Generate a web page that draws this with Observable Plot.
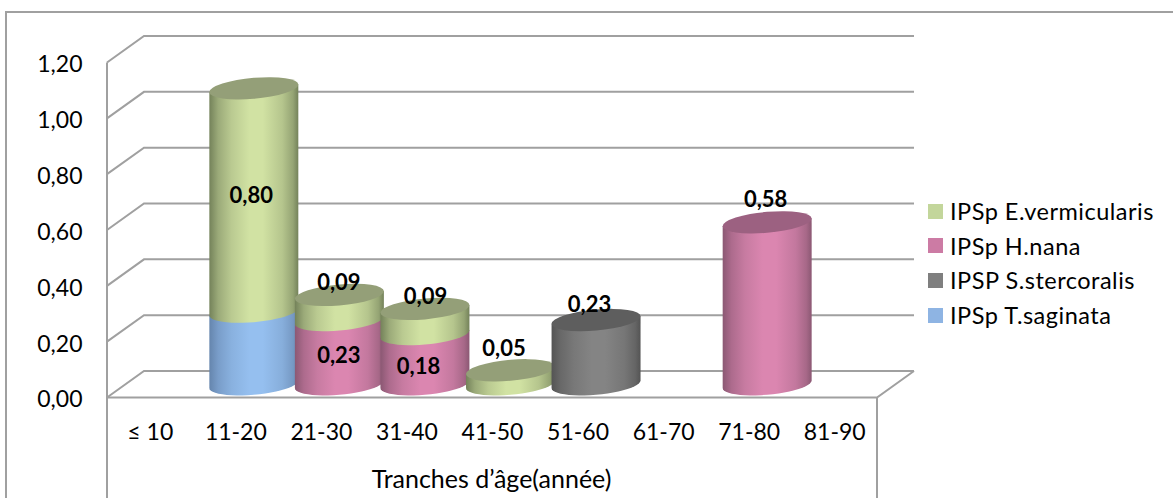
<!DOCTYPE html>
<html lang="fr">
<head>
<meta charset="utf-8">
<title>IPSp par tranche d'âge</title>
<script src="https://cdn.jsdelivr.net/npm/d3@7"></script>
<script src="https://cdn.jsdelivr.net/npm/@observablehq/plot@0.6"></script>
<style>
  html, body { margin: 0; padding: 0; background: #fff; }
  #chart { position: relative; width: 1173px; height: 498px; overflow: hidden; font-family: Lato, sans-serif; }
  #chart svg { display: block; }
  .legend { position: absolute; left: 928px; top: 194px; font-size: 23.5px; color: #000; letter-spacing: 0.5px; }
  .legend div { display: flex; align-items: center; height: 34.6px; white-space: nowrap; }
  .legend i { width: 15px; height: 15px; margin-right: 7px; }
</style>
</head>
<body>
<div id="chart"></div>
<script>
// Age bands on the horizontal axis
const ages = ["≤ 10", "11-20", "21-30", "31-40", "41-50", "51-60", "61-70", "71-80", "81-90"];

// Parasite index per age band, one list per species
const tSaginata     = [0, 0.26, 0, 0, 0, 0, 0, 0, 0];
const sStercoralis  = [0, 0, 0, 0, 0, 0.23, 0, 0, 0];
const hNana         = [0, 0, 0.23, 0.18, 0, 0, 0, 0.58, 0];
const eVermicularis = [0, 0.80, 0.09, 0.09, 0.05, 0, 0, 0, 0];

const yTicks = [0, 0.2, 0.4, 0.6, 0.8, 1.0, 1.2];

// Stacking order runs bottom to top
const series = [
  {name: "IPSp T.saginata",     values: tSaginata,     swatch: "#8eb4e3", light: "#95bfef", dark: "#6585ad", cap: "#7b98bd"},
  {name: "IPSP S.stercoralis",  values: sStercoralis,  swatch: "#7f7f7f", light: "#848484", dark: "#545454", cap: "#5e5e5e"},
  {name: "IPSp H.nana",         values: hNana,         swatch: "#cc7ba4", light: "#db86b0", dark: "#8b5873", cap: "#9c6181"},
  {name: "IPSp E.vermicularis", values: eVermicularis, swatch: "#c3d69b", light: "#d1e2a3", dark: "#74825a", cap: "#949f78"}
];

// Receding floor and wall offset of the 3D box, in pixels
const depthX = 37, depthY = -26.5;
const capRadiusY = 10.5, capSkew = 3.8;

// Stacked rows, one per non-zero segment, left to right and bottom to top
const rows = [];
ages.forEach((age, a) => {
  let base = 0;
  series.forEach((s, k) => {
    const value = s.values[a];
    if (value > 0) {
      rows.push({age, series: k, value, y1: base, y2: base + value});
      base += value;
    }
  });
});

// Nudges of the value labels from the centre of each cylinder's top, in pixels
const labelNudge = {
  "11-20|3": [-3, 107], "21-30|3": [-1, -12], "31-40|3": [0, -12], "41-50|3": [-7, -22],
  "51-60|1": [-7, -16], "71-80|2": [-2, -23], "21-30|2": [-1, 61], "31-40|2": [-7, 58]
};

const svgNS = "http://www.w3.org/2000/svg";
function el(name, attrs) {
  const node = document.createElementNS(svgNS, name);
  for (const k in attrs) node.setAttribute(k, attrs[k]);
  return node;
}

// Points of the lower half of a cap ellipse, right to left
function lowerArc(cx, cy, rx) {
  return d3.range(0, 25).map(n => {
    const t = Math.PI * n / 24;
    return [cx + rx * Math.cos(t), cy + capRadiusY * Math.sin(t) - capSkew * Math.cos(t)];
  });
}

// Draws each bar as a cylinder segment: curved bottom, shaded side, and a cap on the top segment
function cylinders(index, scales, values) {
  const g = el("g", {});
  const defs = el("defs", {});
  series.forEach((s, k) => {
    const grad = el("linearGradient", {id: "side" + k, x1: 0, x2: 1, y1: 0, y2: 0});
    const mix = d3.interpolateRgb(s.dark, s.light);
    [[0, 0], [0.1, 0.42], [0.25, 0.75], [0.45, 1], [0.6, 1], [0.82, 0.7], [0.94, 0.35], [1, 0]].forEach(([o, m]) => {
      grad.appendChild(el("stop", {offset: o, "stop-color": mix(m)}));
    });
    defs.appendChild(grad);
  });
  g.appendChild(defs);
  const band = scales.x.bandwidth();
  const rx = band * 0.52;
  const tops = d3.rollup(rows, v => d3.max(v, d => d.y2), d => d.age);
  for (const i of index) {
    const row = rows[i];
    const cx = values.x[i] + band / 2 + depthX / 2;
    const yb = values.y1[i] + depthY / 2;
    const yt = values.y2[i] + depthY / 2;
    const arc = lowerArc(cx, yb, rx).map(p => p.join(",")).join("L");
    const side = `M${cx + rx},${yt - capSkew}L${arc}L${cx - rx},${yt + capSkew}Z`;
    g.appendChild(el("path", {d: side, fill: `url(#side${row.series})`}));
    if (row.y2 === tops.get(row.age)) {
      g.appendChild(el("ellipse", {
        cx: 0, cy: 0, rx, ry: capRadiusY,
        fill: series[row.series].cap,
        transform: `matrix(1,${-capSkew / rx},0,1,${cx},${yt})`
      }));
    }
  }
  return g;
}

// Box walls: the receding and back part of each gridline, plus the floor edge
function box(index, scales) {
  const g = el("g", {fill: "none", stroke: "#a0a0a0", "stroke-width": 2});
  const left = scales.x(ages[0]);
  const right = scales.x(ages[ages.length - 1]) + scales.x.bandwidth();
  for (const t of yTicks) {
    const y = scales.y(t);
    g.appendChild(el("path", {d: `M${left},${y}l${depthX},${depthY}L${right + depthX},${y + depthY}`}));
  }
  const y0 = scales.y(0);
  g.appendChild(el("path", {d: `M${left},${scales.y(1.2)}V498M${left},${y0}H${right}l${depthX},${depthY}M${right},${y0}V498`}));
  return g;
}

const plot = Plot.plot({
  width: 1173,
  height: 498,
  marginLeft: 107,
  marginRight: 296,
  marginTop: 62.5,
  marginBottom: 100.5,
  style: {fontFamily: "Lato, sans-serif", fontSize: "23px", color: "#000", background: "transparent"},
  x: {type: "band", domain: ages, padding: 0, round: false, label: null, tickSize: 0, tickPadding: 26},
  y: {domain: [0, 1.2]},
  marks: [
    box,
    Plot.axisY({
      ticks: yTicks,
      tickFormat: d => d.toFixed(2).replace(".", ","),
      label: null,
      tickSize: 0,
      tickPadding: 25,
      dy: 2
    }),
    Plot.barY(rows, {x: "age", y1: "y1", y2: "y2", render: cylinders}),
    ...rows.map(r => {
      const key = `${r.age}|${r.series}`;
      const [dx, dy] = labelNudge[key] || [0, 0];
      if (!labelNudge[key]) return null;
      const top = d3.max(rows.filter(d => d.age === r.age), d => d.y2);
      return Plot.text([r], {
        x: "age",
        y: () => top,
        text: d => d.value.toFixed(2).replace(".", ","),
        dx: dx + depthX / 2,
        dy: dy + depthY / 2,
        fontWeight: "bold",
        fontSize: 22,
        fill: "#000"
      });
    }).filter(Boolean),
    Plot.text(["Tranches d’âge(année)"], {
      frameAnchor: "bottom", dy: 90, dx: -1, fontSize: 25, fill: "#000"
    })
  ]
});

const chart = document.getElementById("chart");
chart.appendChild(plot);

// Left and top edges of the chart area
const frameLine = el("path", {d: "M6,498V12H1173", fill: "none", stroke: "#a0a0a0", "stroke-width": 2});
plot.insertBefore(frameLine, plot.firstChild);

// Legend lists the series from top of the stack to bottom
const legend = document.createElement("div");
legend.className = "legend";
[...series].reverse().forEach(s => {
  const row = document.createElement("div");
  const sw = document.createElement("i");
  sw.style.background = s.swatch;
  row.appendChild(sw);
  row.appendChild(document.createTextNode(s.name));
  legend.appendChild(row);
});
chart.appendChild(legend);
</script>
</body>
</html>
